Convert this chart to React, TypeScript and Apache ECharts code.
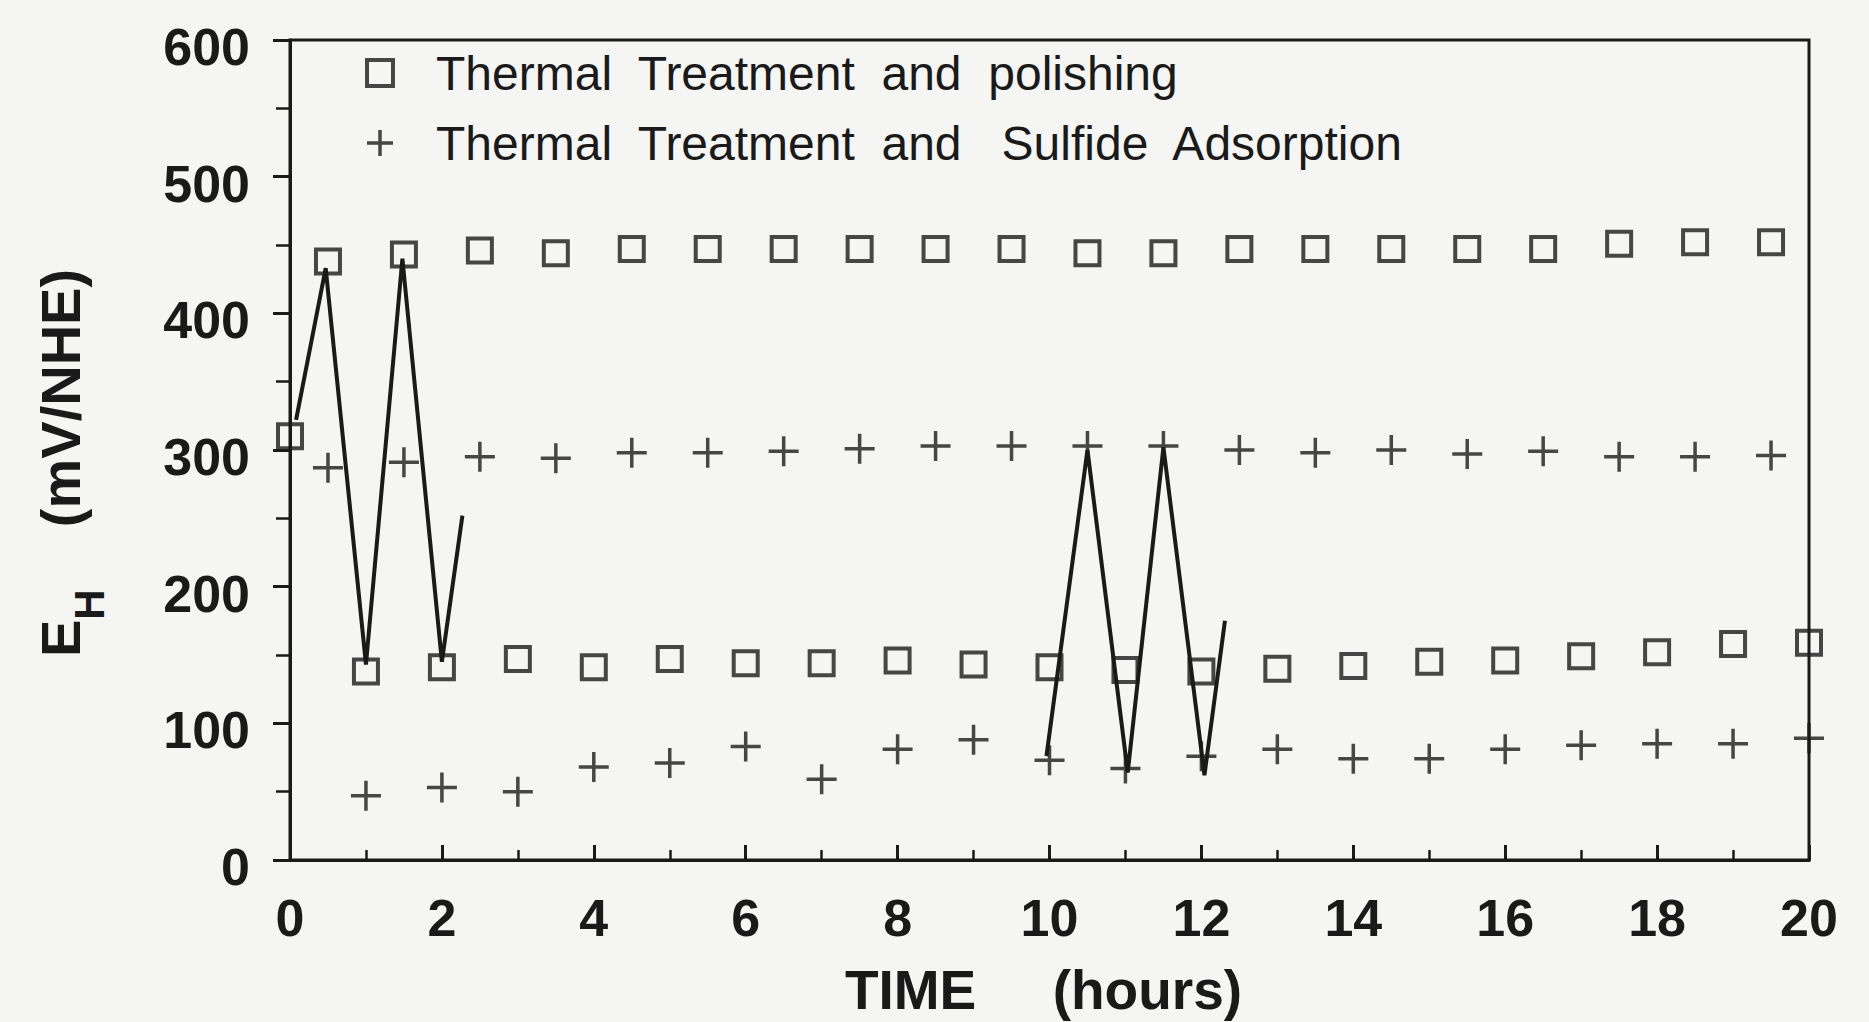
import React, { useEffect, useRef } from "react";
import * as echarts from "echarts";

// ---- data ----
const hoursHalf = [0.5, 1.5, 2.5, 3.5, 4.5, 5.5, 6.5, 7.5, 8.5, 9.5, 10.5, 11.5, 12.5, 13.5, 14.5, 15.5, 16.5, 17.5, 18.5, 19.5];
const hoursWhole = [1, 2, 3, 4, 5, 6, 7, 8, 9, 10, 11, 12, 13, 14, 15, 16, 17, 18, 19, 20];

const squareStart = [0, 310];
const squareHigh = [438, 443, 446, 444, 447, 447, 447, 447, 447, 447, 444, 444, 447, 447, 447, 447, 447, 451, 452, 452];
const squareLow = [138, 141, 147, 141, 147, 144, 144, 146, 143, 141, 139, 138, 140, 142, 145, 146, 149, 152, 158, 159];
const plusHigh = [287, 291, 295, 294, 298, 298, 299, 301, 303, 303, 303, 303, 300, 298, 300, 297, 299, 295, 295, 296];
const plusLow = [47, 53, 50, 68, 71, 83, 59, 81, 88, 73, 67, 76, 81, 74, 74, 81, 84, 85, 85, 89];

const zigzag1Time = [0.08, 0.47, 1.0, 1.48, 2.0, 2.27];
const zigzag1Value = [322, 433, 143, 440, 145, 252];
const zigzag2Time = [9.96, 10.5, 11.03, 11.5, 12.04, 12.31];
const zigzag2Value = [76, 300, 64, 302, 62, 175];

const seriesNames = ["Thermal  Treatment  and  polishing", "Thermal  Treatment  and   Sulfide  Adsorption"];
const xTicks = { min: 0, max: 20, interval: 2 };
const yTicks = { min: 0, max: 600, interval: 100 };

const INK = "#1a1a1a";
const FONT = "'Liberation Sans', Arial, Helvetica, sans-serif";
const PLUS = "path://M0,10L20,10M10,0L10,20";

function pairs(xs: number[], ys: number[]) {
  return xs.map((x, i) => [x, ys[i]]);
}

export default function App() {
  const ref = useRef<HTMLDivElement>(null);
  useEffect(() => {
    if (!ref.current) return;
    const chart = echarts.init(ref.current, undefined, { renderer: "svg" });
    const squareStyle = { color: "rgba(0,0,0,0)", borderColor: INK, borderWidth: 4 };
    const plusStyle = { color: "rgba(0,0,0,0)", borderColor: INK, borderWidth: 3.5 };
    chart.setOption({
      animation: false,
      backgroundColor: "#f5f5f3",
      textStyle: { fontFamily: FONT, color: INK },
      grid: {
        left: 290,
        right: 60,
        top: 40,
        bottom: 157,
        show: true,
        borderColor: INK,
        borderWidth: 3,
        backgroundColor: "rgba(0,0,0,0)",
      },
      legend: {
        orient: "vertical",
        left: 360,
        top: 42,
        itemWidth: 26,
        itemHeight: 26,
        itemGap: 18,
        selectedMode: false,
        textStyle: { fontSize: 48, color: INK, fontFamily: FONT, lineHeight: 52, padding: [0, 0, 0, 38] },
        data: [
          { name: seriesNames[0], icon: "rect", itemStyle: squareStyle },
          { name: seriesNames[1], icon: PLUS, itemStyle: plusStyle },
        ],
      },
      xAxis: {
        type: "value",
        min: xTicks.min,
        max: xTicks.max,
        interval: xTicks.interval,
        name: "TIME     (hours)",
        nameLocation: "middle",
        nameGap: 102,
        nameTextStyle: { fontSize: 55, fontWeight: "bold", color: INK, fontFamily: FONT, padding: [0, 12, 0, 0] },
        axisLine: { lineStyle: { color: INK, width: 3 } },
        axisTick: { inside: true, length: 15, lineStyle: { color: INK, width: 3 } },
        minorTick: { show: true, splitNumber: 2, length: 10, lineStyle: { color: INK, width: 2.5 } },
        axisLabel: { margin: 32, fontSize: 52, fontWeight: "bold", color: INK, fontFamily: FONT },
        splitLine: { show: false },
      },
      yAxis: {
        type: "value",
        min: yTicks.min,
        max: yTicks.max,
        interval: yTicks.interval,
        name: "{e|E}{h|H}    (mV/NHE)",
        nameLocation: "middle",
        nameRotate: 90,
        nameGap: 180,
        nameTextStyle: {
          fontSize: 56,
          fontWeight: "bold",
          color: INK,
          fontFamily: FONT,
          padding: [0, 26, 0, 0],
          rich: {
            e: { fontSize: 56, fontWeight: "bold", color: INK, fontFamily: FONT, lineHeight: 100, verticalAlign: "middle" },
            h: { fontSize: 42, fontWeight: "bold", color: INK, fontFamily: FONT, lineHeight: 42, verticalAlign: "bottom" },
          },
        },
        axisLine: { lineStyle: { color: INK, width: 3 } },
        axisTick: { inside: false, length: 17, lineStyle: { color: INK, width: 3 } },
        minorTick: { show: true, splitNumber: 2, length: 14, lineStyle: { color: INK, width: 2.5 } },
        axisLabel: {
          margin: 40,
          fontSize: 52,
          fontWeight: "bold",
          color: INK,
          fontFamily: FONT,
          formatter: "{v|{value}}",
          rich: {
            v: { fontSize: 52, fontWeight: "bold", color: INK, fontFamily: FONT, padding: [14, 0, 0, 0] },
          },
        },
        splitLine: { show: false },
      },
      series: [
        {
          name: "zigzag1",
          type: "line",
          showSymbol: false,
          symbol: "none",
          data: pairs(zigzag1Time, zigzag1Value),
          lineStyle: { color: INK, width: 4 },
          z: 3,
        },
        {
          name: "zigzag2",
          type: "line",
          showSymbol: false,
          symbol: "none",
          data: pairs(zigzag2Time, zigzag2Value),
          lineStyle: { color: INK, width: 4 },
          z: 3,
        },
        {
          name: seriesNames[0],
          type: "scatter",
          symbol: "rect",
          symbolSize: 24,
          itemStyle: squareStyle,
          data: [squareStart, ...pairs(hoursHalf, squareHigh), ...pairs(hoursWhole, squareLow)],
          z: 4,
        },
        {
          name: seriesNames[1],
          type: "scatter",
          symbol: PLUS,
          symbolSize: 30,
          itemStyle: plusStyle,
          data: [...pairs(hoursHalf, plusHigh), ...pairs(hoursWhole, plusLow)],
          z: 4,
        },
      ],
    });
    return () => chart.dispose();
  }, []);
  return (
    <div
      ref={ref}
      style={{ position: "absolute", left: 0, top: 0, width: "1869px", height: "1022px" }}
    />
  );
}
